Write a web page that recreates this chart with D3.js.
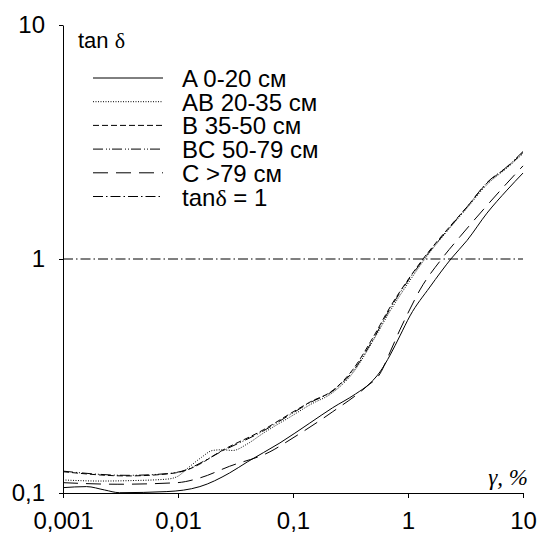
<!DOCTYPE html>
<html>
<head>
<meta charset="utf-8">
<script src="https://cdn.jsdelivr.net/npm/d3@7"></script>
<style>
  body { margin: 0; background: #fff; }
  text { font-family: "Liberation Sans", Arial, sans-serif; fill: #000; }
</style>
</head>
<body>
<div id="chart"></div>
<script>
// strain amplitude, %
const xTicks = [0.001, 0.01, 0.1, 1, 10]
const xTickLabels = ['0,001', '0,01', '0,1', '1', '10']
const yTicks = [0.1, 1, 10]
const yTickLabels = ['0,1', '1', '10']

// tan delta
const seriesA = [[0.001, 0.1054], [0.0016, 0.1065], [0.0023, 0.103], [0.0031, 0.1003], [0.008, 0.1014],
  [0.0155, 0.1065], [0.028, 0.1217], [0.04, 0.1357], [0.077, 0.1637], [0.14, 0.199], [0.22, 0.231],
  [0.35, 0.265], [0.47, 0.295], [0.57, 0.329], [0.7, 0.389], [0.85, 0.469], [1.04, 0.571],
  [1.55, 0.759], [2.4, 1.01], [3.26, 1.2], [4.86, 1.57], [7.26, 1.97], [10, 2.33]]
const seriesAB = [[0.001, 0.1137], [0.0021, 0.1125], [0.004, 0.113], [0.008, 0.1146], [0.01, 0.118],
  [0.012, 0.127], [0.016, 0.142], [0.02, 0.152], [0.024, 0.153], [0.03, 0.152], [0.04, 0.162],
  [0.055, 0.18], [0.1, 0.215], [0.14, 0.238], [0.22, 0.268], [0.33, 0.325], [0.5, 0.45],
  [0.7, 0.6], [1.04, 0.81], [1.4, 1.0], [2.32, 1.36], [3.26, 1.65], [4.86, 2.08], [7.26, 2.45], [10, 2.82]]
const seriesB = [[0.001, 0.1233], [0.0036, 0.1183], [0.008, 0.1206], [0.012, 0.1254], [0.0155, 0.133],
  [0.0231, 0.15], [0.055, 0.186], [0.1, 0.222], [0.141, 0.245], [0.223, 0.275], [0.33, 0.336],
  [0.5, 0.465], [0.7, 0.624], [1.04, 0.838], [1.35, 1.0], [2.32, 1.38], [3.26, 1.67], [4.86, 2.11],
  [7.26, 2.47], [10, 2.85]]
const seriesBC = [[0.001, 0.124], [0.0036, 0.119], [0.008, 0.121], [0.012, 0.126], [0.0155, 0.134],
  [0.023, 0.149], [0.055, 0.184], [0.1, 0.22], [0.14, 0.243], [0.22, 0.272], [0.33, 0.33],
  [0.5, 0.455], [0.7, 0.615], [1.04, 0.83], [1.35, 0.99], [2.32, 1.37], [3.26, 1.67], [4.86, 2.12],
  [7.26, 2.48], [10, 2.88]]
const seriesC = [[0.001, 0.1107], [0.003, 0.109], [0.0098, 0.1107], [0.0155, 0.116], [0.028, 0.13],
  [0.063, 0.15], [0.1, 0.172], [0.22, 0.222], [0.44, 0.286], [0.57, 0.323], [0.7, 0.401],
  [0.85, 0.498], [1.04, 0.611], [1.27, 0.738], [1.96, 1.0], [2.83, 1.245], [4.49, 1.62],
  [7.26, 2.11], [10, 2.5]]

const legendLabels = ['A 0-20 см', 'AB 20-35 см', 'B 35-50 см', 'BC 50-79 см', 'C >79 см']
const dashes = [null, '1,1.5', '6,3', '10,3,1,2,1,2', '15,8']
const refDash = '10,3,1.5,3'

const width = 540
const height = 536

const x = d3.scaleLog().domain([0.001, 10]).range([63, 523])
const y = d3.scaleLog().domain([0.1, 10]).range([493, 25])

const svg = d3.select('#chart')
  .append('svg')
  .attr('width', width)
  .attr('height', height)

// reference line tan delta = 1
svg.append('line')
  .attr('x1', x(0.001))
  .attr('x2', x(10))
  .attr('y1', y(1))
  .attr('y2', y(1))
  .attr('stroke', '#000')
  .attr('stroke-width', 1)
  .attr('stroke-dasharray', refDash)

const line = d3.line()
  .x(d => x(d[0]))
  .y(d => y(d[1]))
  .curve(d3.curveMonotoneX)

const allSeries = [seriesA, seriesAB, seriesB, seriesBC, seriesC]
svg.selectAll('.curve')
  .data(allSeries)
  .enter().append('path')
  .classed('curve', true)
  .attr('d', line)
  .attr('fill', 'none')
  .attr('stroke', '#000')
  .attr('stroke-width', 1)
  .attr('stroke-dasharray', (d, i) => dashes[i])

// axes
const xAxis = d3.axisBottom(x)
  .tickValues(xTicks)
  .tickFormat((d, i) => xTickLabels[i])
  .tickSize(5)
  .tickSizeOuter(0)
  .tickPadding(14)
const yAxis = d3.axisLeft(y)
  .tickValues(yTicks)
  .tickFormat((d, i) => yTickLabels[i])
  .tickSize(4)
  .tickSizeOuter(0)
  .tickPadding(14)

svg.append('g').attr('transform', `translate(0,${y(0.1)})`).call(xAxis)
svg.append('g').attr('transform', `translate(${x(0.001)},0)`).call(yAxis)
svg.selectAll('.domain, .tick line').attr('stroke', '#000').attr('stroke-width', 1)
svg.selectAll('.tick text')
  .style('font-family', '"Liberation Sans", Arial, sans-serif')
  .style('font-size', '24px')
  .attr('fill', '#000')

// axis titles
const yTitle = svg.append('text')
  .attr('x', 78)
  .attr('y', 48)
  .style('font-size', '22px')
yTitle.append('tspan').text('tan ')
yTitle.append('tspan').style('font-family', '"Liberation Serif", serif').text('δ')

svg.append('text')
  .attr('x', 528)
  .attr('y', 485)
  .attr('text-anchor', 'end')
  .style('font-family', '"Liberation Serif", serif')
  .style('font-style', 'italic')
  .style('font-size', '23px')
  .text('γ, %')

// legend
const legend = svg.append('g').attr('transform', 'translate(93,78)')
const rows = legendLabels.map((label, i) => ({ label, dash: dashes[i] }))
rows.push({ label: null, dash: refDash })

const row = legend.selectAll('.row')
  .data(rows)
  .enter().append('g')
  .classed('row', true)
  .attr('transform', (d, i) => `translate(0,${i * 23.7})`)

row.append('line')
  .attr('x1', 0)
  .attr('x2', 70)
  .attr('stroke', '#000')
  .attr('stroke-width', 1)
  .attr('stroke-dasharray', d => d.dash)

const rowText = row.append('text')
  .attr('x', 89)
  .attr('y', 9)
  .style('font-size', '24px')
rowText.filter(d => d.label).text(d => d.label)
const refText = rowText.filter(d => !d.label)
refText.append('tspan').text('tan')
refText.append('tspan').style('font-family', '"Liberation Serif", serif').text('δ')
refText.append('tspan').text(' = 1')
</script>
</body>
</html>
